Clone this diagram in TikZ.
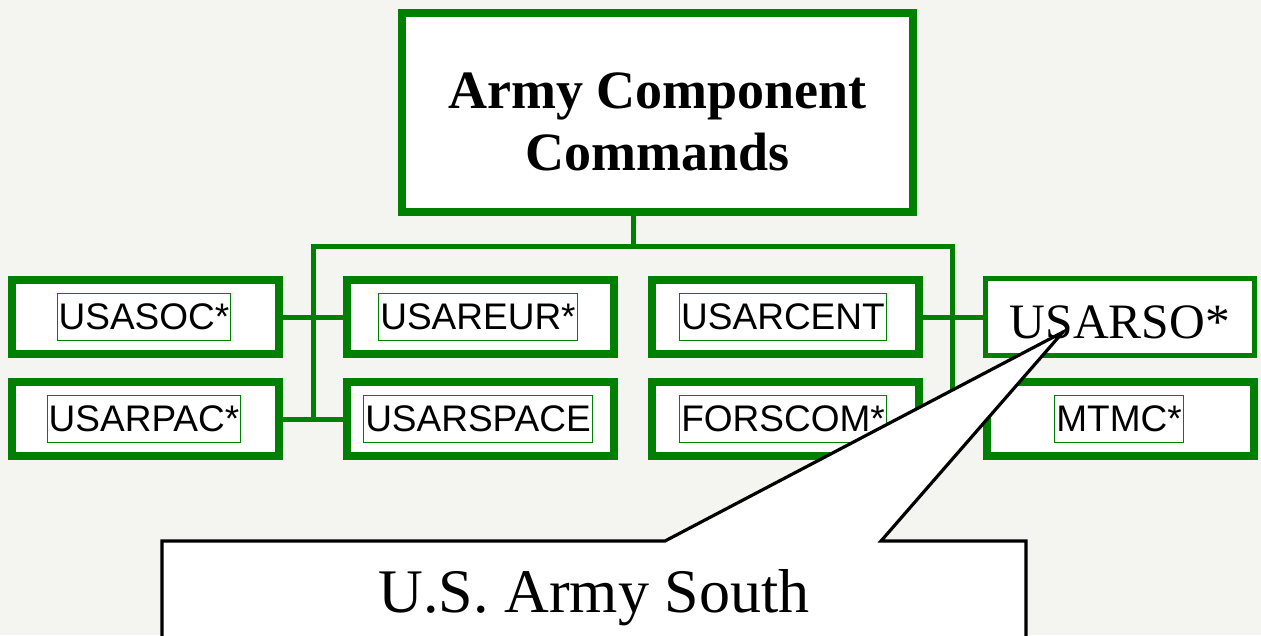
\documentclass[tikz,border=0pt]{standalone}
\usepackage{fontspec}
\setmainfont{Liberation Serif}
\setsansfont{Liberation Sans}
\definecolor{armygreen}{RGB}{0,128,0}
\definecolor{bgc}{HTML}{F4F4F0}
\begin{document}
\begin{tikzpicture}[x=1pt,y=-1pt,
  cmdbox/.style={draw=armygreen, line width=8pt, fill=white, minimum width=267pt, minimum height=74pt, inner sep=0pt},
  topbox/.style={draw=armygreen, line width=8pt, fill=white, minimum width=511pt, minimum height=199pt, inner sep=0pt},
  sobox/.style={draw=armygreen, line width=5pt, fill=white, minimum width=269pt, minimum height=77pt, inner sep=0pt, font=\fontsize{49.5}{55}\selectfont, text height=43pt, text depth=0pt},
  lbl/.style={draw=armygreen, line width=1pt, fill=white, inner xsep=1.5pt, inner ysep=0pt, minimum height=47pt, font=\sffamily\fontsize{37}{40}\selectfont},
  link/.style={draw=armygreen, line width=5pt, line join=miter},
  callout/.style={draw=black, line width=3.2pt, fill=white, line join=miter},
  ]
\useasboundingbox (0,0) rectangle (1261,635);
\fill[bgc] (0,0) rectangle (1261,635);

% top box
\node[topbox] (top) at (657.5,112.5) {};
\node[font=\bfseries\fontsize{54}{62}\selectfont, align=center, inner sep=0pt] (toptitle) at (657.5,122) {Army Component\\Commands};

% command boxes
\node[cmdbox] (usasoc)    at (145.5,317) {};
\node[cmdbox] (usarpac)   at (145.5,419) {};
\node[cmdbox] (usareur)   at (480,317) {};
\node[cmdbox] (usarspace) at (480,419) {};
\node[cmdbox] (usarcent)  at (785.5,317) {};
\node[cmdbox] (forscom)   at (785.5,419) {};
\node[sobox]  (usarso)    at (1120,317) {USARSO*};
\node[cmdbox] (mtmc)      at (1120,419) {};

% labels
\node[lbl] (usasoc-t)    at (144,317) {USASOC*};
\node[lbl] (usarpac-t)   at (144,419) {USARPAC*};
\node[lbl] (usareur-t)   at (478,317) {USAREUR*};
\node[lbl] (usarspace-t) at (478,419) {USARSPACE};
\node[lbl] (usarcent-t)  at (783,317) {USARCENT};
\node[lbl] (forscom-t)   at (783,419) {FORSCOM*};
\node[lbl] (mtmc-t)      at (1119,419) {MTMC*};

% connectors
\coordinate (busL) at (313,246);
\coordinate (busR) at (952,246);
\coordinate (stem) at (633,246);
\draw[link] (stem |- top.south) -- (stem);
\draw[link] (busL |- usarpac.east) -- (busL) -- (busR) -- (busR |- mtmc.west);
\draw[link] (usasoc.east) -- (usareur.west);
\draw[link] (usarpac.east) -- (usarspace.west);
\draw[link] (usarcent.east) -- (usarso.west);
\draw[link] (forscom.east) -- (mtmc.west);

% callout
\coordinate (tip) at (1063,332);
\coordinate (cTL) at (162,541);
\coordinate (cB1) at (665,541);
\coordinate (cB2) at (881,541);
\coordinate (cTR) at (1026,541);
\coordinate (cBR) at (1026,660);
\coordinate (cBL) at (162,660);
\draw[callout] (cTL) -- (cB1) -- (tip) -- (cB2) -- (cTR) -- (cBR) -- (cBL) -- cycle;
\node[anchor=base, font=\fontsize{62}{70}\selectfont, inner sep=0pt] (south) at (594,612) {U.S. Army South};
\end{tikzpicture}
\end{document}
